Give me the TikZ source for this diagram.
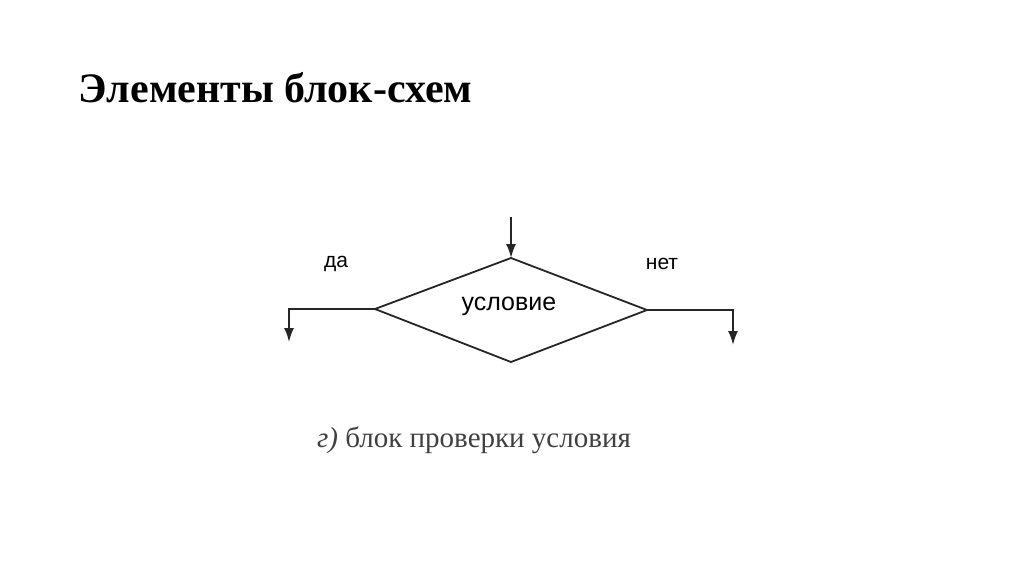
\documentclass[tikz,border=0pt]{standalone}
\usetikzlibrary{arrows.meta}
\usepackage{fontspec}
\setmainfont{Liberation Serif}
\newfontfamily\sansf{Liberation Sans}
\begin{document}
\begin{tikzpicture}[x=1pt,y=-1pt,line width=1.8pt,
  ln/.style={draw=black!85},
  tip/.style={-{Latex[length=14pt,width=10pt]}}]
\useasboundingbox[fill=white] (0,0) rectangle (1024,574);
\node[anchor=west,inner sep=0pt,font=\bfseries\fontsize{42}{46}\selectfont] (title) at (78,88) {Элементы блок-схем};
\coordinate (L) at (375,309);
\coordinate (T) at (511,258);
\coordinate (R) at (647,310);
\coordinate (B) at (511,362);
\draw[ln] (L) -- (T) -- (R) -- (B) -- cycle;
\node[font=\sansf\fontsize{25}{28}\selectfont] (cond) at (509,306) {условие};
\coordinate (in) at (511,217);
\draw[ln,tip] (in) -- (T);
\coordinate (l1) at (289,309);
\coordinate (l2) at (289,342);
\draw[ln,tip] (L) -- (l1) -- (l2);
\coordinate (r1) at (733,310);
\coordinate (r2) at (733,345);
\draw[ln,tip] (R) -- (r1) -- (r2);
\node[font=\sansf\fontsize{21}{24}\selectfont] (yes) at (336,264) {да};
\node[font=\sansf\fontsize{21}{24}\selectfont] (no) at (662,264) {нет};
\node[font=\fontsize{29}{32}\selectfont,text=black!75] (cap) at (474,440) {\textit{г)} блок проверки условия};
\end{tikzpicture}
\end{document}
